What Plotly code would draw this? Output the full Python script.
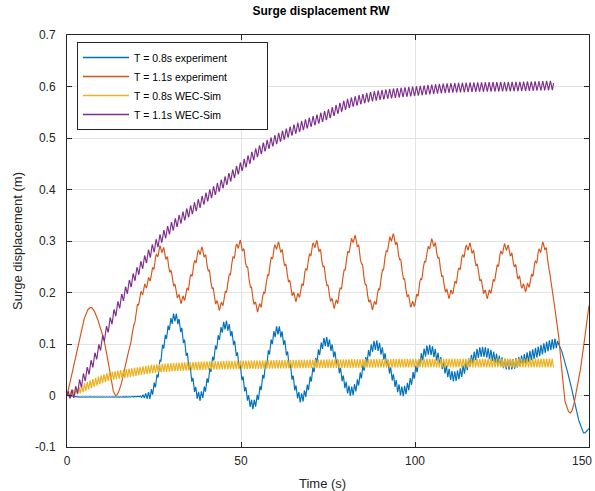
import numpy as np
import plotly.graph_objects as go

# ---------------- data ----------------
# slow (wave-averaged) component of each record, knots (time s, surge m)
exp08_t = [0, 4, 12, 20, 23.5, 25.7, 27.6, 31, 38.1, 45.6, 53.4, 60.6, 67.2, 74.4,
           81.6, 88.7, 96.4, 104, 111.2, 119.3, 127, 134.5, 140.8, 144.2, 147, 148.6, 150]
exp08_v = [0, -0.003, -0.003, -0.002, 0.0, 0.03, 0.095, 0.152, -0.002, 0.137, -0.018, 0.127,
           -0.005, 0.105, 0.008, 0.098, 0.008, 0.089, 0.037, 0.085, 0.06, 0.082, 0.101,
           0.037, -0.047, -0.073, -0.064]
exp08_amp_t = [0, 21, 24, 140.5, 141.5, 150]
exp08_amp_v = [0.0005, 0.001, 0.008, 0.010, 0.0, 0.0]

exp11_t = [0, 6.8, 10.4, 14, 18, 20.9, 23.8, 27, 32.9, 38.6, 43.8, 49.6, 54.8, 60.5, 65.8,
           71.5, 76.8, 82.5, 87.8, 93.5, 99.2, 105, 109.7, 115.5, 120.7, 126, 131.7, 137,
           139.4, 141.3, 143.2, 144.6, 147, 150]
exp11_v = [0, 0.171, 0.114, 0.0, 0.095, 0.19, 0.228, 0.285, 0.185, 0.282, 0.172, 0.295,
           0.169, 0.292, 0.189, 0.295, 0.176, 0.305, 0.173, 0.308, 0.176, 0.298, 0.195,
           0.29, 0.195, 0.289, 0.208, 0.292, 0.205, 0.114, -0.014, -0.034, 0.03, 0.175]
exp11_amp_t = [0, 17, 20, 138, 139.5, 150]
exp11_amp_v = [0.0, 0.0, 0.007, 0.007, 0.0, 0.0]

sim08_t = [0, 3.7, 7.5, 12.3, 17.1, 26.6, 36.2, 45.7, 55.3, 80, 110, 140]
sim08_v = [0, 0.011, 0.024, 0.037, 0.043, 0.053, 0.057, 0.059, 0.060, 0.062, 0.063, 0.063]
sim08_amp_t = [0, 5, 140]
sim08_amp_v = [0.004, 0.008, 0.0085]

sim11_t = [0, 2, 3.7, 7.5, 12.3, 17.1, 21.8, 26.6, 31.4, 36.2, 45.8, 50.5, 55.3, 64.8,
           74.4, 82, 90.6, 100.2, 109.7, 119.3, 128.9, 139.8]
sim11_v = [0, 0.005, 0.022, 0.066, 0.14, 0.205, 0.257, 0.302, 0.336, 0.363, 0.418, 0.447,
           0.476, 0.515, 0.544, 0.570, 0.584, 0.591, 0.597, 0.599, 0.600, 0.602]
sim11_amp_t = [0, 3, 140]
sim11_amp_v = [0.007, 0.010, 0.009]

wave_periods = [0.8, 1.1, 0.8, 1.1]
names = ["T = 0.8s experiment", "T = 1.1s experiment", "T = 0.8s WEC-Sim", "T = 1.1s WEC-Sim"]
colors = ["#0072BD", "#D95319", "#EDB120", "#7E2F8E"]
end_times = [150, 150, 139.8, 139.8]

x_tickvals = [0, 50, 100, 150]
x_ticktext = ["0", "50", "100", ""]   # the last label is placed so it stays inside the page
x_last_label = "150"
y_tickvals = [-0.1, 0, 0.1, 0.2, 0.3, 0.4, 0.5, 0.6, 0.7]
y_ticktext = ["-0.1", "0", "0.1", "0.2", "0.3", "0.4", "0.5", "0.6", "0.7"]

title_text = "Surge displacement RW"
x_title = "Time (s)"
y_title = "Surge displacement (m)"


def pchip(xk, yk, x):
    xk = np.asarray(xk, float)
    yk = np.asarray(yk, float)
    h = np.diff(xk)
    d = np.diff(yk) / h
    m = np.zeros_like(yk)
    for k in range(1, len(xk) - 1):
        if d[k - 1] * d[k] > 0:
            w1 = 2 * h[k] + h[k - 1]
            w2 = h[k] + 2 * h[k - 1]
            m[k] = (w1 + w2) / (w1 / d[k - 1] + w2 / d[k])
    m[0] = d[0]
    m[-1] = d[-1]
    idx = np.clip(np.searchsorted(xk, x) - 1, 0, len(h) - 1)
    s = (x - xk[idx]) / h[idx]
    h00 = 2 * s**3 - 3 * s**2 + 1
    h10 = s**3 - 2 * s**2 + s
    h01 = -2 * s**3 + 3 * s**2
    h11 = s**3 - s**2
    return h00 * yk[idx] + h10 * h[idx] * m[idx] + h01 * yk[idx + 1] + h11 * h[idx] * m[idx + 1]


def record(kt, kv, at, av, T, tend):
    t = np.arange(0, tend + 1e-9, 0.05)
    return t, pchip(kt, kv, t) + np.interp(t, at, av) * np.sin(2 * np.pi * t / T)


series = [
    (exp08_t, exp08_v, exp08_amp_t, exp08_amp_v),
    (exp11_t, exp11_v, exp11_amp_t, exp11_amp_v),
    (sim08_t, sim08_v, sim08_amp_t, sim08_amp_v),
    (sim11_t, sim11_v, sim11_amp_t, sim11_amp_v),
]

FONT = "Liberation Sans, Arial, Helvetica, sans-serif"
AX = "#262626"
W, H = 595, 491
ML, MR, MT, MB = 67, 6, 35, 44
PAD = "\u00a0" * 12  # widens the legend box like the reference

fig = go.Figure()
for (kt, kv, at, av), T, c, te in zip(series, wave_periods, colors, end_times):
    t, y = record(kt, kv, at, av, T, te)
    fig.add_trace(go.Scatter(x=t, y=y, mode="lines", showlegend=False,
                             line=dict(color=c, width=1.15)))
# legend entries (no data), drawn a bit thicker so the colours read clearly
for i, (nm, c) in enumerate(zip(names, colors)):
    fig.add_trace(go.Scatter(x=[None], y=[None], mode="lines", name=nm + (PAD if i == 0 else ""),
                             line=dict(color=c, width=1.6), showlegend=True, hoverinfo="skip"))

axis_common = dict(showline=True, linecolor=AX, linewidth=1, mirror="allticks",
                   ticks="inside", ticklen=5, tickcolor=AX, showgrid=True,
                   gridcolor="#e3e3e3", gridwidth=1, zeroline=False, automargin=False,
                   ticklabeloverflow="allow",
                   tickfont=dict(family=FONT, size=12, color=AX))

fig.update_layout(
    width=W, height=H,
    margin=dict(l=ML, r=MR, t=MT, b=MB, autoexpand=False),
    paper_bgcolor="white", plot_bgcolor="white",
    font=dict(family=FONT, color=AX),
    title=dict(text="<b>" + title_text + "</b>", x=(321 - ML) / (W - ML - MR), xref="paper",
               xanchor="center", yref="container", y=1 - 11 / H, yanchor="middle",
               font=dict(family=FONT, size=12, color="black")),
    xaxis=dict(range=[0, 150], tickvals=x_tickvals, ticktext=x_ticktext,
               ticklabelstandoff=3, **axis_common),
    yaxis=dict(range=[-0.1, 0.7], tickvals=y_tickvals, ticktext=y_ticktext,
               ticklabelstandoff=8, **axis_common),
    legend=dict(x=(77 - ML) / (W - ML - MR), y=1 - (42 - MT) / (H - MT - MB),
                xanchor="left", yanchor="top",
                bgcolor="white", bordercolor=AX, borderwidth=1,
                font=dict(family=FONT, size=10.5, color="black"),
                itemwidth=46, tracegroupgap=0),
    showlegend=True,
    hovermode=False,
    annotations=[
        dict(text=x_title, xref="paper", yref="paper", x=(322 - ML) / (W - ML - MR),
             y=-(483 - (H - MB)) / (H - MT - MB), xanchor="center", yanchor="middle",
             showarrow=False, font=dict(family=FONT, size=13, color=AX)),
        dict(text=y_title, xref="paper", yref="paper", x=-(ML - 17) / (W - ML - MR),
             y=0.5, xanchor="center", yanchor="middle", textangle=-90,
             showarrow=False, font=dict(family=FONT, size=13, color=AX)),
        dict(text=x_last_label, xref="paper", yref="paper", x=(W - 1 - ML) / (W - ML - MR),
             y=-(461 - (H - MB)) / (H - MT - MB), xanchor="right", yanchor="middle",
             showarrow=False, font=dict(family=FONT, size=12, color=AX)),
    ],
)

fig.write_html("out.html", config={"displayModeBar": False},
               post_script="document.body.style.margin='0';document.body.style.padding='0';")
